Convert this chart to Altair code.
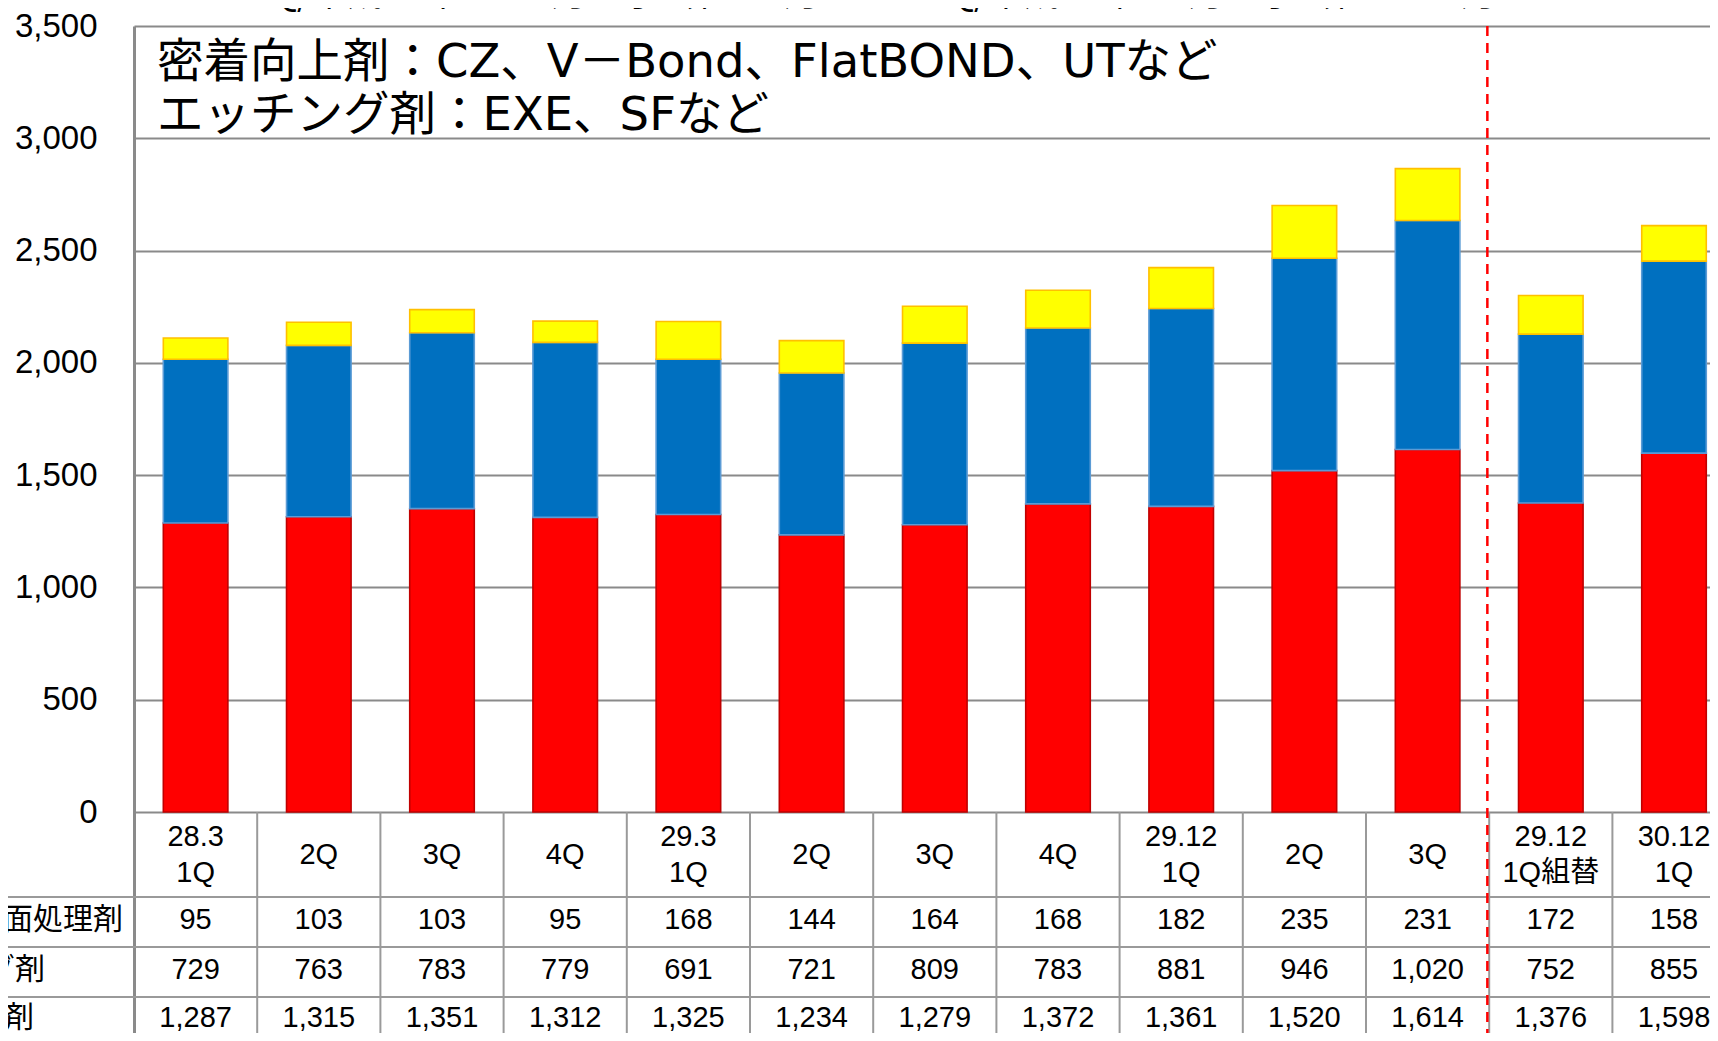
import altair as alt
import pandas as pd

# ---------------- data ----------------
quarters = ["28.3\n1Q", "2Q", "3Q", "4Q", "29.3\n1Q", "2Q", "3Q", "4Q",
            "29.12\n1Q", "2Q", "3Q", "29.12\n1Q組替", "30.12\n1Q"]
surface = [95, 103, 103, 95, 168, 144, 164, 168, 182, 235, 231, 172, 158]          # 表面処理剤
etching = [729, 763, 783, 779, 691, 721, 809, 783, 881, 946, 1020, 752, 855]        # エッチング剤
adhesion = [1287, 1315, 1351, 1312, 1325, 1234, 1279, 1372, 1361, 1520, 1614, 1376, 1598]  # 密着向上剤
series_names = ["密着向上剤", "エッチング剤", "表面処理剤"]   # stack order bottom -> top
series_colors = ["#FF0000", "#0070C0", "#FFFF00"]
series_strokes = ["#C00000", "#5B9BD5", "#FFC000"]
row_labels = ["表面処理剤", "エッチング剤", "密着向上剤"]    # table rows top -> bottom
note_lines = ["密着向上剤：CZ、V－Bond、FlatBOND、UTなど", "エッチング剤：EXE、SFなど"]
title_text = "3Q/平成28年10-12月、子会社7-9月　→　1Q/平成29年1-3月、子会社10-12月"
y_ticks = [0, 500, 1000, 1500, 2000, 2500, 3000, 3500]
split_after = 11   # dashed line before the 12th column

# ---------------- layout (pixels) ----------------
W, H = 1576, 1007          # plot area
COL = 123.2                # column width
BAR_FRAC = 0.524
AXIS_PX = 786              # pixels from 0 to 3500
k = AXIS_PX / 3500.0
XMAX = W / COL
YMIN = -(H - AXIS_PX) / k
def below(px):             # pixels below the zero line -> data units
    return -px / k
def px_x(px_page):         # page x -> column units
    return (px_page - 134) / COL
def px_y(px_page):         # page y -> data units
    return 3500 - (px_page - 26) / k

ROW_LINES = [85, 135, 185]
HEADER_C = 43
HEADER_HALF = 18
ROW_C = [108, 158, 206]

xs = alt.Scale(domain=[0, XMAX], nice=False, zero=False)
ys = alt.Scale(domain=[YMIN, 3500], nice=False, zero=False)
yax = alt.Axis(values=y_ticks, labelExpr="format(datum.value, ',')", labelFont="Liberation Sans",
               labelFontSize=33, labelColor="#000000", labelPadding=37,
               ticks=False, domainColor="#8a8a8a", domainWidth=3,
               grid=True, gridColor="#8a8a8a", gridWidth=2, title=None)

def Y(field):
    return alt.Y(field, scale=ys, axis=yax, title=None)
def X(field):
    return alt.X(field, scale=xs, axis=None)

FONT_LAT = "Liberation Sans, Noto Sans CJK JP"
FONT_JP = "Noto Sans CJK JP"
FONT_NOTE = "DejaVu Sans, Noto Sans CJK JP"

# ---------------- frames ----------------
values_by_series = {"密着向上剤": adhesion, "エッチング剤": etching, "表面処理剤": surface}
rows = []
for s_i, s in enumerate(series_names):
    for c, v in enumerate(values_by_series[s]):
        rows.append({"series": s, "order": s_i, "col": c, "value": v})
bars_df = pd.DataFrame(rows)

bars = alt.Chart(bars_df).transform_stack(
    stack="value", groupby=["col"], as_=["y0", "y1"], sort=[alt.SortField("order")]
).transform_calculate(
    xa=f"datum.col + {(1 - BAR_FRAC) / 2}", xb=f"datum.col + {(1 + BAR_FRAC) / 2}"
).mark_bar(strokeWidth=1.6).encode(
    x=X("xa:Q"), x2="xb:Q",
    y=Y("y0:Q"), y2="y1:Q",
    color=alt.Color("series:N", scale=alt.Scale(domain=series_names, range=series_colors), legend=None),
    stroke=alt.Stroke("series:N", scale=alt.Scale(domain=series_names, range=series_strokes), legend=None),
)

# table vertical lines
vdf = pd.DataFrame({"x": list(range(1, len(quarters) + 1)), "ya": 0.0, "yb": YMIN})
vlines = alt.Chart(vdf).mark_rule(color="#9a9a9a", strokeWidth=2).encode(
    x=X("x:Q"), y=Y("ya:Q"), y2="yb:Q")

# table horizontal lines
hdf = pd.DataFrame({"y": [below(p) for p in ROW_LINES], "xa": px_x(0), "xb": XMAX})
hlines = alt.Chart(hdf).mark_rule(color="#9a9a9a", strokeWidth=2).encode(
    y=Y("y:Q"), x=X("xa:Q"), x2="xb:Q")

# header texts (one or two lines per column)
hrows = []
for i, q in enumerate(quarters):
    parts = q.split("\n")
    if len(parts) == 1:
        hrows.append({"t": parts[0], "x": i + 0.5, "y": below(HEADER_C)})
    else:
        hrows.append({"t": parts[0], "x": i + 0.5, "y": below(HEADER_C - HEADER_HALF)})
        hrows.append({"t": parts[1], "x": i + 0.5, "y": below(HEADER_C + HEADER_HALF)})
head_df = pd.DataFrame(hrows)
header = alt.Chart(head_df).mark_text(font=FONT_LAT, fontSize=29, color="#000000",
                                      baseline="middle", align="center").encode(
    x=X("x:Q"), y=Y("y:Q"), text="t:N")

# table values
row_of = {"表面処理剤": 0, "エッチング剤": 1, "密着向上剤": 2}
tv = bars_df.copy()
tv["x"] = tv["col"] + 0.5
tv["y"] = [below(ROW_C[row_of[s]]) for s in tv["series"]]
tvals = alt.Chart(tv).mark_text(font="Liberation Sans", fontSize=29, color="#000000",
                                baseline="middle", align="center").encode(
    x=X("x:Q"), y=Y("y:Q"), text=alt.Text("value:Q", format=","))

# row labels (cut off at the left edge as in the reference)
lab_df = pd.DataFrame({"label": row_labels, "x": [px_x(123), px_x(45), px_x(34)],
                       "y": [below(c) for c in ROW_C]})
labels = alt.Chart(lab_df).mark_text(font=FONT_JP, fontSize=30, color="#000000",
                                     baseline="middle", align="right").encode(
    x=X("x:Q"), y=Y("y:Q"), text="label:N")

# dashed separator
ddf = pd.DataFrame({"x": [split_after - 0.015], "ya": [3500.0], "yb": [YMIN]})
dashed = alt.Chart(ddf).mark_rule(color="#FF0000", strokeWidth=2.5, strokeDash=[10, 7]).encode(
    x=X("x:Q"), y=Y("ya:Q"), y2="yb:Q")

# note text
note_df = pd.DataFrame({"t": note_lines, "x": px_x(157), "y": [px_y(63), px_y(116)]})
note = alt.Chart(note_df).mark_text(font=FONT_NOTE, fontSize=46.5, color="#000000",
                                    baseline="middle", align="left").encode(
    x=X("x:Q"), y=Y("y:Q"), text="t:N")

# title (mostly cut at the top as in the reference)
title_df = pd.DataFrame({"t": [title_text], "x": [px_x(874)], "y": [px_y(6)]})
title = alt.Chart(title_df).mark_text(font=FONT_JP, fontSize=36, color="#000000",
                                      baseline="alphabetic", align="center").encode(
    x=X("x:Q"), y=Y("y:Q"), text="t:N")

chart = alt.layer(bars, vlines, hlines, header, tvals, labels, dashed, note, title).properties(
    width=W, height=H,
    autosize=alt.AutoSizeParams(type="none"),
    padding={"left": 126, "top": 18, "right": 0, "bottom": 0},
    background="#FFFFFF",
).configure_view(stroke=None)

chart.save("out.html", embed_options={"renderer": "svg", "actions": False})
